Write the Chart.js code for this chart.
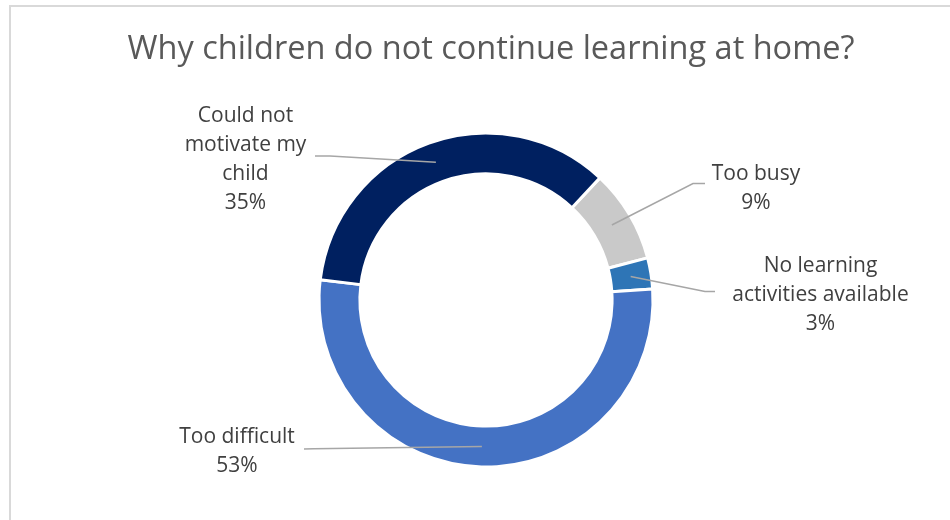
<!DOCTYPE html>
<html>
<head>
<meta charset="utf-8">
<script src="https://cdn.jsdelivr.net/npm/chart.js@4/dist/chart.umd.min.js"></script>
<style>
  html, body { margin: 0; padding: 0; background: #ffffff; }
  #wrap { position: relative; width: 950px; height: 520px; overflow: hidden; }
  #frame {
    position: absolute; left: 9px; top: 5px; width: 941px; height: 515px;
    border-left: 2px solid #d9d9d9; border-top: 2px solid #d9d9d9; box-sizing: border-box;
  }
  #chart { position: absolute; left: 0; top: 0; }
</style>
</head>
<body>
<div id="wrap">
  <div id="frame"></div>
  <canvas id="chart" width="950" height="520"></canvas>
</div>
<script>
// Survey answers, clockwise from the top-right
const categories = [
  ['Too busy'],
  ['No learning', 'activities available'],
  ['Too difficult'],
  ['Could not', 'motivate my', 'child']
];
const shares = [9, 3, 53, 35];
const sliceColors = ['#c9c9c9', '#2e75b6', '#4472c4', '#002060'];
const chartTitle = 'Why children do not continue learning at home?';

// Label placement relative to the ring centre: text centre x, first baseline y,
// where the leader leaves the text, and where it bends
const labelLayout = [
  { tx: 270,    ty: -120.5, sx: 219,  sy: -116.5, bx: 207,  by: -116.5 },
  { tx: 334.5,  ty: -28.5,  sx: 229,  sy: -8.5,   bx: 219,  by: -8.5 },
  { tx: -249,   ty: 143,    sx: -182, sy: 149,    bx: -172, by: 148.8 },
  { tx: -240.5, ty: -178,   sx: -171, sy: -144,   bx: -156, by: -144 }
];

const FONT = '"Open Sans", "Noto Sans", sans-serif';

const calloutPlugin = {
  id: 'callouts',
  afterDatasetsDraw(chart) {
    const ctx = chart.ctx;
    const meta = chart.getDatasetMeta(0);
    ctx.save();
    meta.data.forEach((arc, i) => {
      const p = arc.getProps(['x', 'y', 'startAngle', 'endAngle', 'innerRadius', 'outerRadius'], true);
      const mid = (p.startAngle + p.endAngle) / 2;
      const r = (p.innerRadius + p.outerRadius) / 2;
      const ax = p.x + Math.cos(mid) * r;
      const ay = p.y + Math.sin(mid) * r;
      const L = labelLayout[i];
      // leader line
      ctx.beginPath();
      ctx.strokeStyle = '#a6a6a6';
      ctx.lineWidth = 1.5;
      ctx.moveTo(p.x + L.sx, p.y + L.sy);
      ctx.lineTo(p.x + L.bx, p.y + L.by);
      ctx.lineTo(ax, ay);
      ctx.stroke();
      // label text: category lines then the share
      const lines = categories[i].concat([shares[i] + '%']);
      ctx.fillStyle = '#404040';
      ctx.font = '21px ' + FONT;
      ctx.textAlign = 'center';
      ctx.textBaseline = 'alphabetic';
      lines.forEach((t, k) => {
        ctx.fillText(t, p.x + L.tx, p.y + L.ty + k * 29);
      });
    });
    // chart title
    ctx.fillStyle = '#595959';
    ctx.font = '32.5px ' + FONT;
    ctx.textAlign = 'center';
    ctx.fillText(chartTitle, 491, 59);
    ctx.restore();
  }
};

new Chart(document.getElementById('chart'), {
  type: 'doughnut',
  data: {
    labels: categories.map(c => c.join(' ')),
    datasets: [{
      data: shares,
      backgroundColor: sliceColors,
      borderColor: '#ffffff',
      borderWidth: 3,
      hoverOffset: 0
    }]
  },
  options: {
    responsive: false,
    animation: false,
    rotation: 43,
    radius: 167,
    cutout: '75.5%',
    layout: { padding: { left: 22, right: 0, top: 80, bottom: 0 } },
    plugins: {
      legend: { display: false },
      tooltip: { enabled: false },
      title: { display: false }
    }
  },
  plugins: [calloutPlugin]
});
</script>
</body>
</html>
